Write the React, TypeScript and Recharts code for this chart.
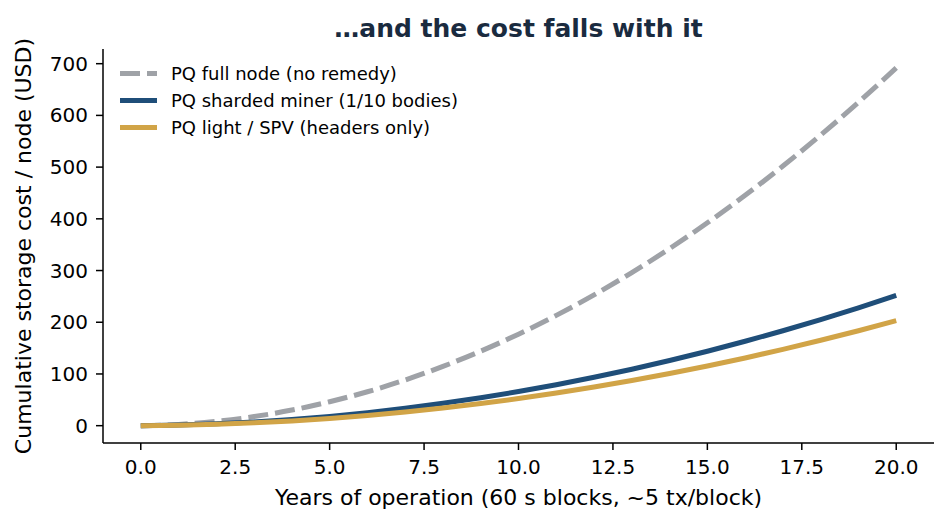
import React from "react";
import { LineChart, Line, XAxis, YAxis, Legend } from "recharts";

// Years of operation (one point per year)
const years = [0, 1, 2, 3, 4, 5, 6, 7, 8, 9, 10, 11, 12, 13, 14, 15, 16, 17, 18, 19, 20];

// Cumulative storage cost per node, USD
const fullNode = [0, 2.5, 8.4, 17.6, 30.2, 46.3, 65.6, 88.4, 114.6, 144.1, 177, 213.3, 253, 296, 342.4, 392.3, 445.4, 502, 562, 625.3, 692];
const shardedMiner = [0, 1.2, 3.6, 7.2, 12, 18, 25.2, 33.6, 43.2, 54, 66, 79.2, 93.6, 109.2, 126, 144, 163.2, 183.6, 205.2, 228, 252];
const lightSpv = [0, 0.8, 2.7, 5.5, 9.2, 14, 19.7, 26.5, 34.2, 42.8, 52.5, 63.1, 74.8, 87.4, 100.9, 115.5, 131, 147.6, 165.1, 183.5, 203];

const xTicks = [0, 2.5, 5, 7.5, 10, 12.5, 15, 17.5, 20];
const yTicks = [0, 100, 200, 300, 400, 500, 600, 700];

const seriesNames = [
  "PQ full node (no remedy)",
  "PQ sharded miner (1/10 bodies)",
  "PQ light / SPV (headers only)",
];

const title = "…and the cost falls with it";
const xLabel = "Years of operation (60 s blocks, ~5 tx/block)";
const yLabel = "Cumulative storage cost / node (USD)";

const GRAY = "#9fa2a7";
const NAVY = "#1f4e79";
const GOLD = "#d1a447";
const FONT = "'DejaVu Sans', sans-serif";

const rows = years.map((y, i) => ({
  year: y,
  full: fullNode[i],
  sharded: shardedMiner[i],
  light: lightSpv[i],
}));

const legendItems = [
  { name: seriesNames[0], color: GRAY, dash: "20 7" },
  { name: seriesNames[1], color: NAVY, dash: undefined },
  { name: seriesNames[2], color: GOLD, dash: undefined },
];

const LegendBox = () => (
  <svg width={380} height={81} style={{ display: "block" }}>
    {legendItems.map((it, i) => {
      const cy = 13.5 + i * 27;
      return (
        <g key={it.name}>
          <line x1={0} x2={37} y1={cy} y2={cy} stroke={it.color} strokeWidth={5} strokeDasharray={it.dash} />
          <text x={51} y={cy + 6.5} fontFamily={FONT} fontSize={18} fill="#000">
            {it.name}
          </text>
        </g>
      );
    })}
  </svg>
);

export default function App() {
  const tickStyle = { fontFamily: FONT, fontSize: 20, fill: "#000" };
  return (
    <div style={{ position: "absolute", left: 0, top: 0, width: 949, height: 524, background: "#fff" }}>
      <LineChart width={949} height={524} data={rows} margin={{ top: 49, right: 15, bottom: 0, left: 40 }}>
        <XAxis
          dataKey="year"
          type="number"
          domain={[-1, 21]}
          ticks={xTicks}
          tickFormatter={(v: number) => v.toFixed(1)}
          tick={tickStyle}
          tickSize={7}
          tickMargin={10}
          height={81}
          axisLine={{ stroke: "#000", strokeWidth: 1.5 }}
          tickLine={{ stroke: "#000", strokeWidth: 1.5 }}
          allowDataOverflow
        />
        <YAxis
          type="number"
          domain={[-33.5, 728.4]}
          ticks={yTicks}
          tick={tickStyle}
          tickSize={7}
          tickMargin={8}
          width={63}
          axisLine={{ stroke: "#000", strokeWidth: 1.5 }}
          tickLine={{ stroke: "#000", strokeWidth: 1.5 }}
          allowDataOverflow
        />
        <Legend
          layout="vertical"
          align="center"
          verticalAlign="middle"
          wrapperStyle={{ left: 120, top: 60, width: 380, height: 81 }}
          content={() => <LegendBox />}
        />
        <Line
          type="monotone"
          dataKey="full"
          name={seriesNames[0]}
          stroke={GRAY}
          strokeWidth={5}
          strokeDasharray="20 7"
          dot={false}
          isAnimationActive={false}
        />
        <Line
          type="monotone"
          dataKey="sharded"
          name={seriesNames[1]}
          stroke={NAVY}
          strokeWidth={5}
          dot={false}
          isAnimationActive={false}
        />
        <Line
          type="monotone"
          dataKey="light"
          name={seriesNames[2]}
          stroke={GOLD}
          strokeWidth={5}
          dot={false}
          isAnimationActive={false}
        />
      </LineChart>
      <svg
        width={949}
        height={524}
        style={{ position: "absolute", left: 0, top: 0, pointerEvents: "none" }}
      >
        <text x={518.5} y={36.7} textAnchor="middle" fontFamily={FONT} fontSize={25} fontWeight="bold" fill="#1a2b3f">
          {title}
        </text>
        <text x={518.5} y={504.5} textAnchor="middle" fontFamily={FONT} fontSize={22} fill="#000">
          {xLabel}
        </text>
        <text
          transform="translate(31, 246) rotate(-90)"
          textAnchor="middle"
          fontFamily={FONT}
          fontSize={22}
          fill="#000"
        >
          {yLabel}
        </text>
      </svg>
    </div>
  );
}
